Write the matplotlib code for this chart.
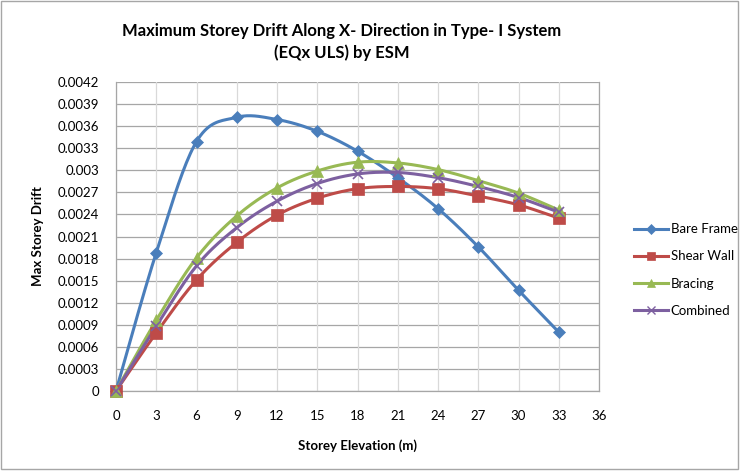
import numpy as np
import matplotlib
matplotlib.use("Agg")
import matplotlib.pyplot as plt
from matplotlib.patches import Rectangle

plt.rcParams['font.family'] = ['Lato', 'DejaVu Sans']

elevation = [0, 3, 6, 9, 12, 15, 18, 21, 24, 27, 30, 33]
bare_frame = [0, 0.00188, 0.00339, 0.00372, 0.00369, 0.00353, 0.00326, 0.00290, 0.00248, 0.00196, 0.00137, 0.00080]
shear_wall = [0, 0.00079, 0.00151, 0.00202, 0.00239, 0.00262, 0.00275, 0.00278, 0.00275, 0.00265, 0.00253, 0.00235]
bracing = [0, 0.00096, 0.00181, 0.00238, 0.00276, 0.00299, 0.00311, 0.00310, 0.00301, 0.00286, 0.00269, 0.00246]
combined = [0, 0.00088, 0.00170, 0.00222, 0.00258, 0.00282, 0.00295, 0.00297, 0.00290, 0.00278, 0.00263, 0.00243]

series_names = ["Bare Frame", "Shear Wall", "Bracing", "Combined"]
x_ticks = list(range(0, 37, 3))
y_ticks = [round(0.0003 * i, 4) for i in range(15)]
y_tick_labels = ["0", "0.0003", "0.0006", "0.0009", "0.0012", "0.0015", "0.0018",
                 "0.0021", "0.0024", "0.0027", "0.003", "0.0033", "0.0036",
                 "0.0039", "0.0042"]

colors = ["#4A7EBB", "#BE4B48", "#98B954", "#7D60A0"]
markers = ["D", "s", "^", "x"]
msizes = [6, 8, 8, 7]


def smooth(x, y, n=20):
    """Catmull-Rom style smoothing between successive points."""
    x = np.asarray(x, float)
    y = np.asarray(y, float)
    px = np.concatenate([[x[0]], x, [x[-1]]])
    py = np.concatenate([[y[0]], y, [y[-1]]])
    xs, ys = [], []
    t = np.linspace(0, 1, n, endpoint=False)
    for i in range(1, len(px) - 2):
        p0, p1, p2, p3 = (np.array([px[j], py[j]]) for j in (i - 1, i, i + 1, i + 2))
        c1 = p1 + (p2 - p0) / 6.0
        c2 = p2 - (p3 - p1) / 6.0
        for tt in t:
            b = ((1 - tt) ** 3) * p1 + 3 * ((1 - tt) ** 2) * tt * c1 + 3 * (1 - tt) * tt ** 2 * c2 + tt ** 3 * p2
            xs.append(b[0]); ys.append(b[1])
    xs.append(x[-1]); ys.append(y[-1])
    return np.array(xs), np.array(ys)


fig = plt.figure(figsize=(7.41, 4.72), dpi=100)
W, H = 741, 472
ax = fig.add_axes([116 / W, 1 - 391 / H, (599 - 116) / W, (391 - 82) / H])

for yv in y_ticks:
    ax.axhline(yv, color="#a6a6a6", lw=0.9, zorder=1)
for xv in x_ticks:
    ax.axvline(xv, color="#d9d9d9", lw=0.9, zorder=1)

data = [bare_frame, shear_wall, bracing, combined]
for name, vals, c, m, ms in zip(series_names, data, colors, markers, msizes):
    sx, sy = smooth(elevation, vals)
    ax.plot(sx, sy, color=c, lw=2.2, zorder=3, solid_capstyle="round")
    ax.plot(elevation, vals, linestyle="none", marker=m, color=c, ms=ms,
            mew=1.2 if m == "x" else 0.5, mfc=c, mec=c, zorder=4, clip_on=False)
    ax.plot([], [], color=c, lw=2.2, marker=m, ms=ms * 0.8, mfc=c, mec=c,
            mew=1.0 if m == "x" else 0.5, label=name)

ax.set_xlim(0, 36)
ax.set_ylim(0, 0.0042)
ax.set_xticks(x_ticks)
ax.set_yticks(y_ticks)
ax.set_yticklabels(y_tick_labels)
ax.tick_params(axis="both", length=0, labelsize=9.5, colors="#000000")
ax.tick_params(axis="x", pad=14)
ax.tick_params(axis="y", pad=12)
ax.spines["top"].set_visible(False)
for side in ["left", "bottom", "right"]:
    ax.spines[side].set_color("#a6a6a6")
    ax.spines[side].set_linewidth(0.9)

ax.set_xlabel("Storey Elevation (m)", fontsize=9.5, fontweight="bold", labelpad=12)
ax.set_ylabel("Max Storey Drift", fontsize=9.5, fontweight="bold", labelpad=10)

fig.text(342 / W, 1 - 31 / H, "Maximum Storey Drift Along X- Direction in Type- I System",
         ha="center", va="center", fontsize=12, fontweight="bold")
fig.text(342 / W, 1 - 53 / H, "(EQx ULS) by ESM",
         ha="center", va="center", fontsize=12, fontweight="bold")

leg = fig.legend(loc="center left", bbox_to_anchor=(622 / W, 1 - 270 / H),
                 frameon=False, fontsize=9.5, handlelength=2.6, labelspacing=1.15,
                 handletextpad=0.2)

fig.patches.append(Rectangle((0.5 / W, 3 / H), (W - 4) / W, (H - 4) / H,
                             transform=fig.transFigure, fill=False,
                             edgecolor="#a6a6a6", lw=1.0))

fig.savefig("out.png", dpi=100)
